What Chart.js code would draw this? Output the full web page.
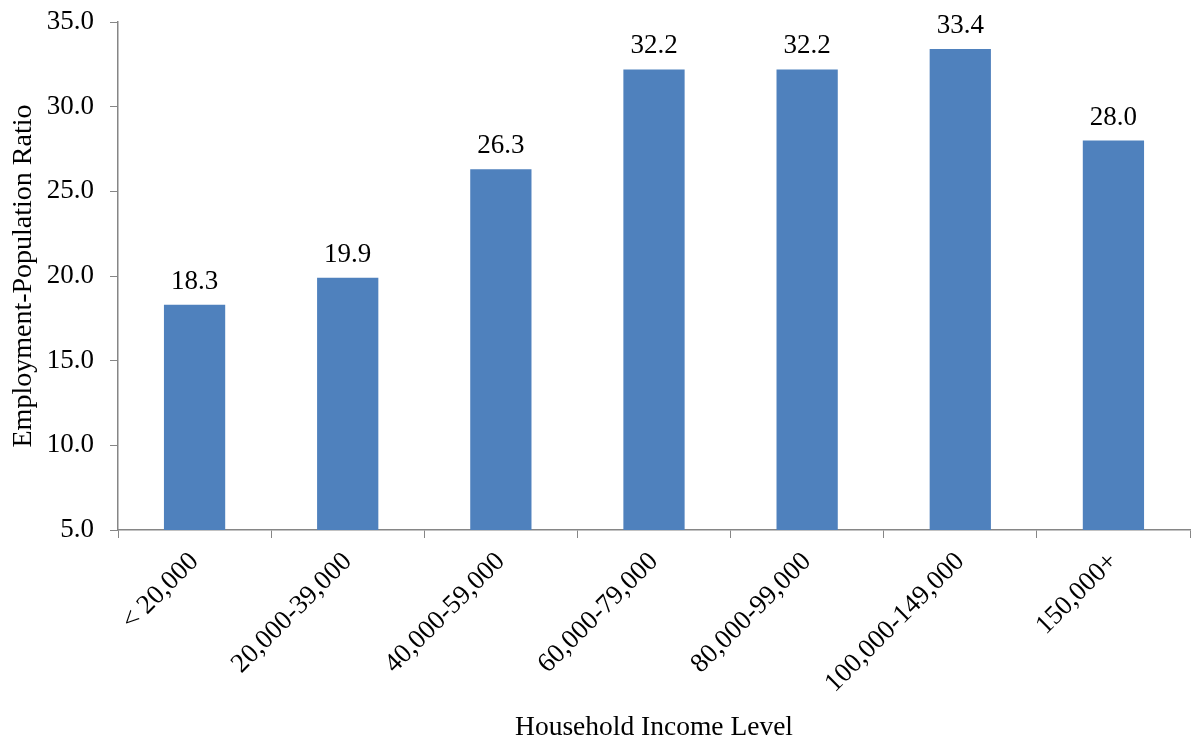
<!DOCTYPE html>
<html>
<head>
<meta charset="utf-8">
<title>Employment-Population Ratio by Household Income</title>
<script src="https://cdn.jsdelivr.net/npm/chart.js@4"></script>
<style>
  html, body { margin: 0; padding: 0; background: #fff; }
  #wrap { width: 1191px; height: 742px; }
</style>
</head>
<body>
<div id="wrap"><canvas id="ratioChart" width="1191" height="742"></canvas></div>
<script>
// Income brackets and the employment-population ratio for each
const incomeLevels = ['< 20,000', '20,000-39,000', '40,000-59,000', '60,000-79,000',
                      '80,000-99,000', '100,000-149,000', '150,000+'];
const ratios = [18.3, 19.9, 26.3, 32.2, 32.2, 33.4, 28.0];
const yTicks = [5, 10, 15, 20, 25, 30, 35];

const axisGray = '#868686';
const serif = '"Liberation Serif", "Times New Roman", serif';

// Writes the value above each bar
const valueLabels = {
    id: 'valueLabels',
    afterDatasetsDraw(chart) {
        const ctx = chart.ctx;
        const meta = chart.getDatasetMeta(0);
        ctx.save();
        ctx.font = '27px ' + serif;
        ctx.fillStyle = '#000';
        ctx.textAlign = 'center';
        ctx.textBaseline = 'alphabetic';
        meta.data.forEach((bar, i) => {
            ctx.fillText(ratios[i].toFixed(1), bar.x, bar.y - 16);
        });
        ctx.restore();
    }
};

const ctx = document.getElementById('ratioChart').getContext('2d');
new Chart(ctx, {
    type: 'bar',
    data: {
        labels: incomeLevels,
        datasets: [{
            data: ratios,
            backgroundColor: '#4F81BD',
            barPercentage: 0.4,
            categoryPercentage: 1.0
        }]
    },
    options: {
        responsive: false,
        animation: false,
        layout: { padding: { top: 22, right: 1, left: 0, bottom: 0 } },
        plugins: {
            legend: { display: false },
            tooltip: { enabled: false }
        },
        scales: {
            x: {
                grid: {
                    offset: true,
                    drawOnChartArea: false,
                    drawTicks: true,
                    tickLength: 8,
                    color: axisGray
                },
                border: { color: axisGray, width: 1.5 },
                ticks: {
                    color: '#000',
                    font: { family: serif, size: 27 },
                    minRotation: 45,
                    maxRotation: 45,
                    padding: 8
                },
                title: {
                    display: true,
                    text: 'Household Income Level',
                    color: '#000',
                    font: { family: serif, size: 27.5, lineHeight: 1.0 },
                    padding: { top: 0, bottom: 0 }
                },
                afterFit(scale) { scale.height = 212; }
            },
            y: {
                min: 5,
                max: 35,
                afterBuildTicks(scale) {
                    scale.ticks = yTicks.map(v => ({ value: v }));
                },
                grid: {
                    drawOnChartArea: false,
                    drawTicks: true,
                    tickLength: 8,
                    color: axisGray
                },
                border: { color: axisGray, width: 1.5 },
                ticks: {
                    color: '#000',
                    font: { family: serif, size: 27 },
                    padding: 16,
                    callback: v => Number(v).toFixed(1)
                },
                title: {
                    display: true,
                    text: 'Employment-Population Ratio',
                    color: '#000',
                    font: { family: serif, size: 28 },
                    padding: { top: 7, bottom: 0 }
                },
                afterFit(scale) {
                    scale.width = 118;
                    // let the layout padding alone set the top of the plot
                    scale.paddingTop = 0;
                    scale.paddingBottom = 0;
                }
            }
        }
    },
    plugins: [valueLabels]
});
</script>
</body>
</html>
